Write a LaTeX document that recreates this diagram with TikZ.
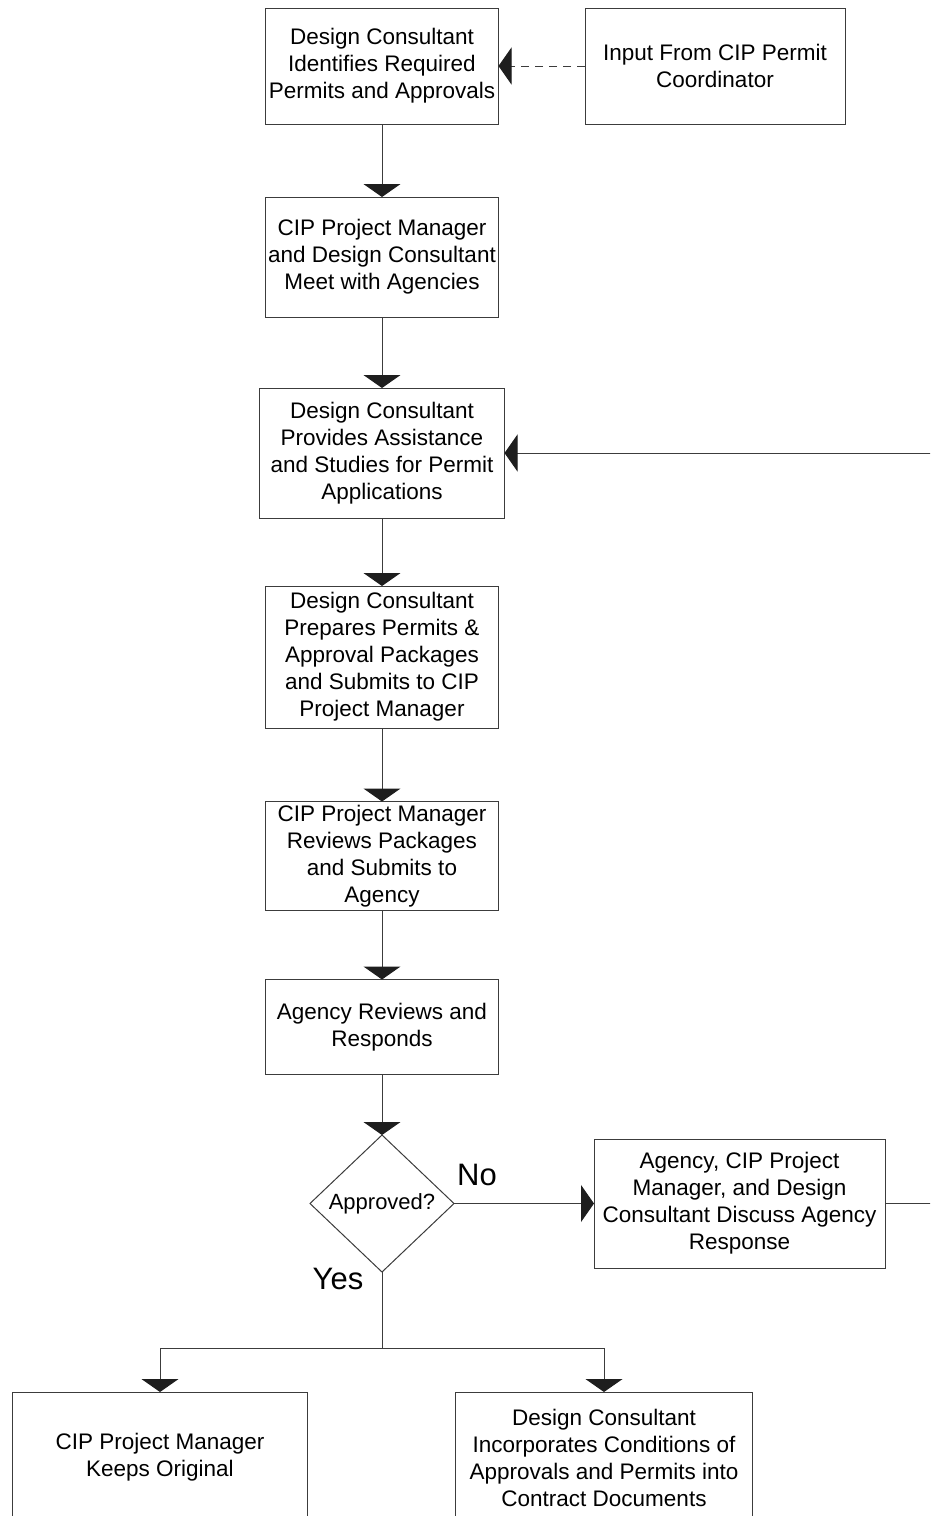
\documentclass[tikz,border=0pt]{standalone}
\usepackage{fontspec}
\setmainfont{Liberation Sans}
\usetikzlibrary{arrows.meta,shapes.geometric}
\definecolor{lc}{RGB}{60,60,60}
\definecolor{ac}{RGB}{30,30,30}
\begin{document}
\begin{tikzpicture}[x=1pt,y=-1pt,
  box/.style={draw=lc,line width=1pt,rectangle,inner sep=0pt,outer sep=0pt,align=center,
    font=\fontsize{22.5}{27}\selectfont},
  conn/.style={draw=lc,line width=1pt,-{Triangle[width=37pt,length=13pt,fill=ac,color=ac]}},
  plain/.style={draw=lc,line width=1pt},
  big/.style={font=\fontsize{31}{36}\selectfont}]
\useasboundingbox (0,0) rectangle (930,1516);
\clip (0,0) rectangle (930,1516);
\node[box,minimum width=233pt,minimum height=116pt] (b1) at (382,66) {Design Consultant\\Identifies Required\\Permits and Approvals};
\node[box,minimum width=260pt,minimum height=116pt] (inp) at (715,66) {Input From CIP Permit\\Coordinator};
\node[box,minimum width=233pt,minimum height=120pt] (b2) at (382,257) {CIP Project Manager\\and Design Consultant\\Meet with Agencies};
\node[box,minimum width=245pt,minimum height=130pt] (b3) at (382,453) {Design Consultant\\Provides Assistance\\and Studies for Permit\\Applications};
\node[box,minimum width=233pt,minimum height=142pt] (b4) at (382,657) {Design Consultant\\Prepares Permits \&\\Approval Packages\\and Submits to CIP\\Project Manager};
\node[box,minimum width=233pt,minimum height=109pt] (b5) at (382,856) {CIP Project Manager\\Reviews Packages\\and Submits to\\Agency};
\node[box,minimum width=233pt,minimum height=95pt] (b6) at (382,1027) {Agency Reviews and\\Responds};
\node[draw=lc,line width=1pt,diamond,minimum width=144pt,minimum height=137pt,inner sep=0pt,outer sep=0pt] (dia) at (382,1203.5) {};
\node[font=\fontsize{22}{26}\selectfont] (dtxt) at (dia.center) {Approved?};
\node[box,minimum width=291pt,minimum height=129pt] (disc) at (739.5,1203.5) {Agency, CIP Project\\Manager, and Design\\Consultant Discuss Agency\\Response};
\node[box,minimum width=295pt,minimum height=131pt] (keep) at (160,1457.5) {CIP Project Manager\\Keeps Original};
\node[box,minimum width=297pt,minimum height=131pt] (inc) at (604,1457.5) {Design Consultant\\Incorporates Conditions of\\Approvals and Permits into\\Contract Documents};
\node[big] (no) at (477,1175) {No};
\node[big] (yes) at (338,1279) {Yes};
\draw[conn,dash pattern=on 8pt off 6pt] (inp.west) -- (b1.east);
\draw[conn] (b1.south) -- (b2.north);
\draw[conn] (b2.south) -- (b3.north);
\draw[conn] (b3.south) -- (b4.north);
\draw[conn] (b4.south) -- (b5.north);
\draw[conn] (b5.south) -- (b6.north);
\draw[conn] (b6.south) -- (dia.north);
\draw[conn] (dia.east) -- (disc.west);
\draw[conn] (disc.east) -- ++(70,0) |- (b3.east);
\draw[plain] (dia.south) -- (382,1348) coordinate (split);
\draw[conn] (split) -| (keep.north);
\draw[conn] (split) -| (inc.north);
\end{tikzpicture}
\end{document}
